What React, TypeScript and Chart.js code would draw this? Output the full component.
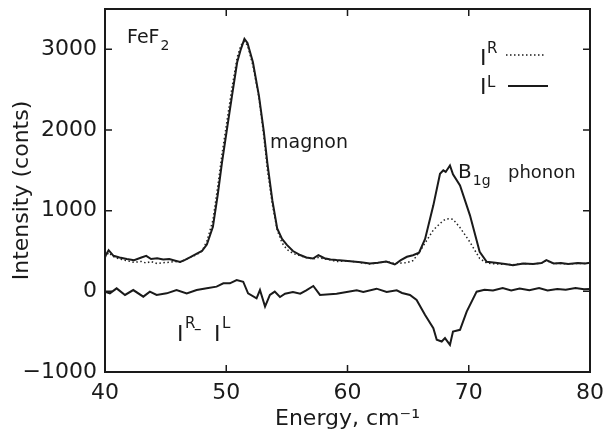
import React, { useEffect, useRef } from "react";
import { Chart, registerables } from "chart.js";
Chart.register(...registerables);

// Energy grid (cm^-1) shared by I^L and I^R
const energy = [
  40, 40.3, 40.7, 41.2, 41.8, 42.4, 43.0, 43.4, 43.8, 44.3, 44.8, 45.3, 45.8, 46.2, 46.6, 47.0, 47.5,
  48.0, 48.4, 48.9, 49.3, 49.65, 50.1, 50.47, 50.9, 51.2, 51.5, 51.75, 52.2, 52.7, 53.1, 53.4, 53.8,
  54.2, 54.6, 55.0, 55.5, 56.1, 56.6, 57.15, 57.6, 58.1, 58.6, 59.1, 59.8, 60.45, 61.1, 61.85, 62.5,
  63.2, 63.9, 64.4, 64.9, 65.4, 65.9, 66.4, 67.08, 67.63, 67.9, 68.1, 68.45, 68.7, 69.28, 70.1, 70.9,
  71.48, 72.2, 73.0, 73.65, 74.5, 75.3, 76.0, 76.4, 77.0, 77.6, 78.2, 79.0, 79.6, 80,
];
// I^L (solid)
const intensityL = [
  430, 510, 440, 420, 400, 385, 420, 440, 400, 410, 395, 400, 380, 365, 390, 420, 460,
  500, 580, 800, 1200, 1600, 2050, 2420, 2840, 3000, 3130, 3080, 2840, 2420, 1980, 1580, 1130,
  780, 650, 575, 500, 450, 420, 407, 448, 410, 395, 387, 380, 370, 360, 346, 355,
  370, 333, 387, 428, 448, 480, 650, 1066, 1457, 1500, 1480, 1560, 1450, 1313, 942, 490,
  367, 355, 340, 325, 345, 340, 350, 387, 345, 350, 340, 350, 345, 355,
];
// I^R (dotted)
const intensityR = [
  420, 480, 430, 400, 380, 360, 370, 350, 370, 345, 355, 360, 370, 360, 390, 420, 450,
  500, 620, 880, 1300, 1700, 2150, 2520, 2900, 3050, 3100, 3050, 2800, 2400, 1920, 1500, 1080,
  760, 600, 520, 470, 440, 420, 400, 420, 400, 390, 370, 375, 370, 355, 340, 350,
  370, 345, 350, 355, 380, 480, 600, 760, 840, 875, 895, 900, 893, 790, 610, 407,
  350, 340, 335, 330, 345, 340, 350, 380, 345, 345, 340, 345, 345, 350,
];
// I^R - I^L
const diffEnergy = [
  40, 40.4, 40.96, 41.65, 42.33, 43.16, 43.7, 44.26, 45.09, 45.9, 46.74, 47.56, 48.39, 49.2, 49.76,
  50.3, 50.86, 51.4, 51.8, 52.5, 52.78, 53.2, 53.6, 54.0, 54.43, 54.85, 55.5, 56.1, 56.6, 57.18,
  57.73, 59.1, 60.76, 61.3, 62.4, 63.23, 64.06, 64.5, 65.15, 65.7, 66.4, 67.08, 67.36, 67.77, 68.04,
  68.45, 68.7, 69.28, 69.83, 70.65, 71.3, 72.0, 72.8, 73.5, 74.2, 75.0, 75.8, 76.5, 77.3, 78.0,
  78.8, 79.5, 80,
];
const diffValues = [
  -4, -25, 37, -45, 16, -66, -4, -45, -25, 16, -25, 16, 37, 58, 99,
  99, 140, 119, -25, -86, 16, -190, -45, -4, -70, -29, -8, -29, 12, 66,
  -45, -29, 12, -8, 33, -8, 12, -20, -45, -107, -293, -457, -601, -622, -580,
  -663, -498, -477, -251, -4, 20, 10, 40, 10, 35, 15, 40, 10, 30, 20,
  40, 25, 30,
];
const xTicks = [40, 50, 60, 70, 80];
const yTicks = [-1000, 0, 1000, 2000, 3000];

const FONT = "'DejaVu Sans', sans-serif";
const INK = "#1a1a1a";

const decorPlugin = {
  id: "decor",
  afterDraw(chart: any) {
    const { ctx, chartArea } = chart;
    const { left, right, top, bottom } = chartArea;
    const xs = chart.scales.x;
    const ys = chart.scales.y;
    ctx.save();
    ctx.strokeStyle = INK;
    ctx.lineWidth = 2;
    ctx.setLineDash([]);
    ctx.strokeRect(left, top, right - left, bottom - top);
    ctx.lineWidth = 1.5;
    const tl = 7;
    ctx.beginPath();
    xTicks.forEach((v) => {
      const px = xs.getPixelForValue(v);
      if (v === xs.min || v === xs.max) return;
      ctx.moveTo(px, bottom);
      ctx.lineTo(px, bottom - tl);
      ctx.moveTo(px, top);
      ctx.lineTo(px, top + tl);
    });
    yTicks.forEach((v) => {
      const py = ys.getPixelForValue(v);
      if (v === ys.min) return;
      ctx.moveTo(left, py);
      ctx.lineTo(left + tl, py);
      ctx.moveTo(right, py);
      ctx.lineTo(right - tl, py);
    });
    ctx.stroke();

    ctx.fillStyle = INK;
    ctx.textBaseline = "alphabetic";
    ctx.textAlign = "left";
    const txt = (s: string, x: number, y: number, size: number) => {
      ctx.font = `${size}px ${FONT}`;
      ctx.fillText(s, x, y);
      return ctx.measureText(s).width;
    };
    // FeF2
    const w = txt("FeF", 127, 43, 19);
    txt("2", 127 + w + 1, 50, 14);
    // magnon
    txt("magnon", 270, 148, 19);
    // B1g phonon
    const wb = txt("B", 458, 178, 20);
    txt("1g", 458 + wb + 1, 185, 14);
    txt("phonon", 508, 178, 18);
    // legend
    txt("I", 480, 65, 22);
    txt("R", 487, 53, 15);
    txt("I", 480, 94, 22);
    txt("L", 487, 87, 15);
    ctx.lineWidth = 1.5;
    ctx.setLineDash([1.5, 2.5]);
    ctx.beginPath();
    ctx.moveTo(506, 55);
    ctx.lineTo(545, 55);
    ctx.stroke();
    ctx.setLineDash([]);
    ctx.lineWidth = 2;
    ctx.beginPath();
    ctx.moveTo(508, 86);
    ctx.lineTo(548, 86);
    ctx.stroke();
    // I^R - I^L
    txt("I", 177, 341, 22);
    txt("R", 185, 328, 15);
    txt("–", 194, 334, 15);
    txt("I", 214, 341, 22);
    txt("L", 222, 328, 15);
    ctx.restore();
  },
};

export default function App() {
  const ref = useRef<HTMLCanvasElement | null>(null);
  useEffect(() => {
    if (!ref.current) return;
    const chart = new Chart(ref.current, {
      type: "line",
      data: {
        datasets: [
          {
            label: "I^R",
            data: energy.map((x, i) => ({ x, y: intensityR[i] })),
            borderColor: "#222",
            borderWidth: 1.5,
            borderDash: [1.5, 2.5],
            pointRadius: 0,
            tension: 0,
            fill: false,
          },
          {
            label: "I^L",
            data: energy.map((x, i) => ({ x, y: intensityL[i] })),
            borderColor: INK,
            borderWidth: 2,
            pointRadius: 0,
            tension: 0,
            fill: false,
          },
          {
            label: "I^R - I^L",
            data: diffEnergy.map((x, i) => ({ x, y: diffValues[i] })),
            borderColor: INK,
            borderWidth: 2,
            pointRadius: 0,
            tension: 0,
            fill: false,
          },
        ],
      },
      options: {
        responsive: false,
        animation: false,
        events: [],
        layout: { padding: { left: 0, right: 20, top: 9, bottom: 0 } },
        plugins: { legend: { display: false }, tooltip: { enabled: false }, title: { display: false } },
        scales: {
          x: {
            type: "linear",
            min: 40,
            max: 80,
            afterBuildTicks: (s: any) => {
              s.ticks = xTicks.map((v) => ({ value: v }));
            },
            afterFit: (s: any) => {
              s.height = 62;
              s.paddingLeft = 0;
              s.paddingRight = 0;
            },
            grid: { display: false, drawTicks: false },
            border: { display: false },
            ticks: { color: INK, font: { family: FONT, size: 22 }, padding: 8, maxRotation: 0, autoSkip: false },
            title: {
              display: true,
              text: "Energy, cm⁻¹",
              color: INK,
              font: { family: FONT, size: 22 },
              padding: { top: 0, bottom: 2 },
            },
          },
          y: {
            type: "linear",
            min: -1000,
            max: 3500,
            afterBuildTicks: (s: any) => {
              s.ticks = yTicks.map((v) => ({ value: v }));
            },
            afterFit: (s: any) => {
              s.width = 105;
              s.paddingTop = 0;
              s.paddingBottom = 0;
            },
            grid: { display: false, drawTicks: false },
            border: { display: false },
            ticks: {
              color: INK,
              font: { family: FONT, size: 22 },
              padding: 8,
              autoSkip: false,
              callback: (v: any) => (v < 0 ? "−" + Math.abs(v) : String(v)),
            },
            title: {
              display: true,
              text: "Intensity (conts)",
              color: INK,
              font: { family: FONT, size: 22 },
              padding: { top: 9, bottom: 0 },
            },
          },
        },
      },
      plugins: [decorPlugin],
    });
    return () => chart.destroy();
  }, []);
  return (
    <div style={{ position: "fixed", left: 0, top: 0, width: 610, height: 434, background: "#fff" }}>
      <canvas ref={ref} width={610} height={434} />
    </div>
  );
}
